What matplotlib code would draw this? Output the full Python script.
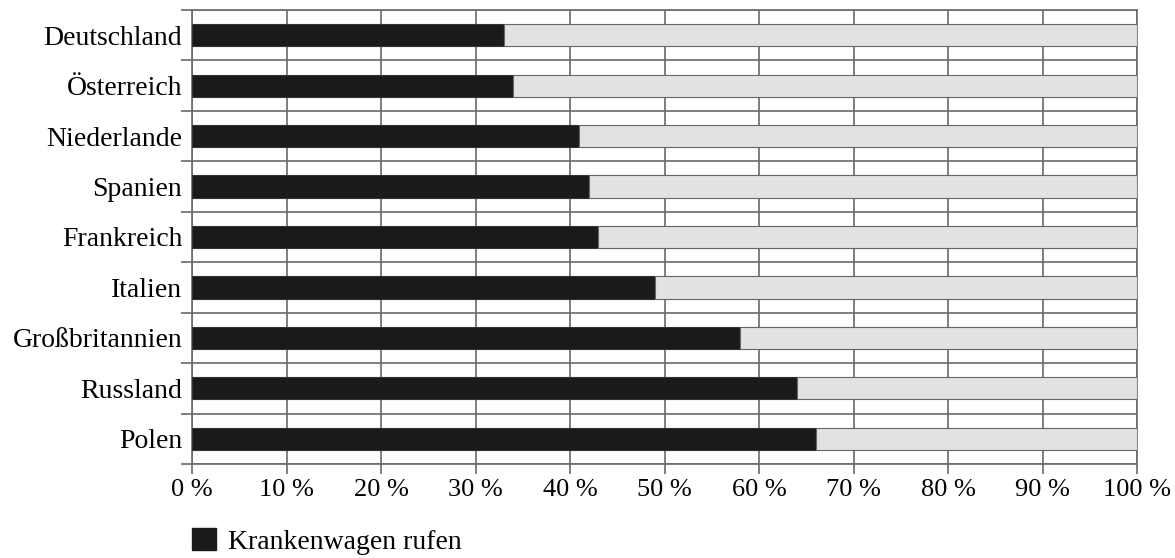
import matplotlib.pyplot as plt
from matplotlib.patches import Patch
import numpy as np

plt.rcParams["font.family"] = ["Liberation Serif", "DejaVu Serif"]

countries = ["Deutschland", "Österreich", "Niederlande", "Spanien", "Frankreich",
             "Italien", "Großbritannien", "Russland", "Polen"]
ambulance = [33, 34, 41, 42, 43, 49, 58, 64, 66]
other = [100 - v for v in ambulance]
x_ticks = [0, 10, 20, 30, 40, 50, 60, 70, 80, 90, 100]
x_labels = [f"{t} %" for t in x_ticks]

BLACK = "#1a1a1a"
LIGHT = "#e3e1e3"
GRID = "#6a6a6a"

fig = plt.figure(figsize=(11.75, 5.58), dpi=100)
ax = fig.add_axes([192 / 1175, 1 - 464 / 558, 945 / 1175, 454 / 558])

y = np.arange(len(countries))
ax.barh(y, ambulance, height=0.44, color=BLACK, edgecolor="#333333",
        linewidth=0.8, zorder=3)
ax.barh(y, other, left=ambulance, height=0.44, color=LIGHT, edgecolor="#666666",
        linewidth=0.8, zorder=3)

ax.set_xlim(0, 100)
ax.set_ylim(len(countries) - 0.5, -0.5)

# x axis
ax.set_xticks(x_ticks)
ax.set_xticklabels(x_labels, fontsize=19)
ax.tick_params(axis="x", direction="out", length=7.5, width=1.2, color=GRID, pad=3)

# y axis: ticks at row boundaries, labels at row centres
ax.set_yticks(np.arange(-0.5, len(countries)), minor=False)
ax.set_yticklabels([])
ax.set_yticks(y, minor=True)
ax.set_yticklabels(countries, minor=True, fontsize=20)
ax.tick_params(axis="y", which="major", direction="out", length=8, width=1.2, color=GRID)
ax.tick_params(axis="y", which="minor", length=0, pad=7)

ax.grid(True, which="major", color=GRID, linewidth=1.2, zorder=1)
ax.set_axisbelow(True)
for side in ["top", "right", "left", "bottom"]:
    ax.spines[side].set_color(GRID)
    ax.spines[side].set_linewidth(1.2)

fig.legend(handles=[Patch(facecolor=BLACK, edgecolor=BLACK)],
           labels=["Krankenwagen rufen"], loc="upper left",
           bbox_to_anchor=(192 / 1175, 1 - 528 / 558), frameon=False,
           fontsize=20, borderpad=0, borderaxespad=0,
           handlelength=0.85, handleheight=0.85, handletextpad=0.45)

fig.savefig("out.png", dpi=100)
